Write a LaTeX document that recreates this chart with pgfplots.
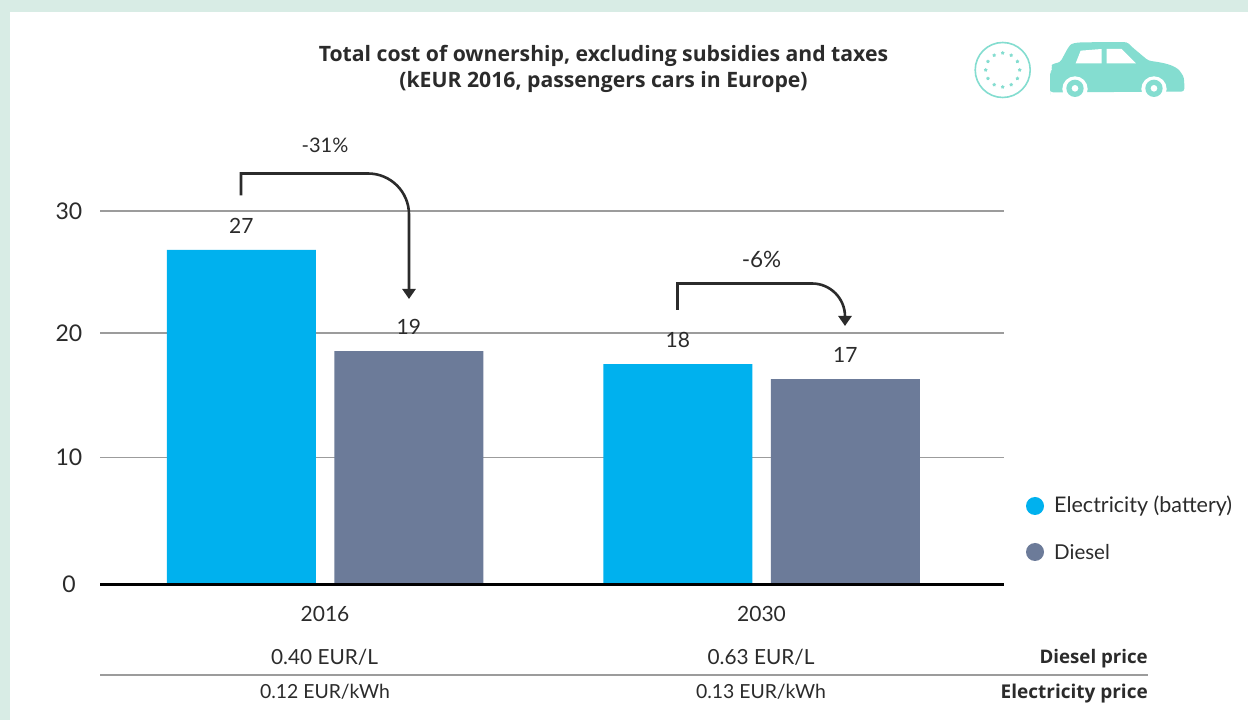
\documentclass[border=0pt]{standalone}
\usepackage{fontspec}
\setmainfont{Lato}
\newfontfamily\boldf{Open Sans}
\usepackage{pgfplots}
\pgfplotsset{compat=1.18}
\usetikzlibrary{arrows.meta,shapes.geometric,calc}
\definecolor{bgm}{HTML}{D8ECE5}
\definecolor{mint}{HTML}{84DDD0}
\definecolor{elec}{HTML}{00B1EE}
\definecolor{dies}{HTML}{6C7B99}
\definecolor{gridg}{HTML}{9C9C9C}
\definecolor{txt}{HTML}{2B2B2B}
\pgfplotstableread{
x y lab
0 26.87 27
1 17.7 18
}\electab
\pgfplotstableread{
x y lab
0 18.75 19
1 16.5 17
}\diestab
\begin{document}
\begin{tikzpicture}[x=1pt,y=1pt,font=\fontsize{20}{24}\selectfont\color{txt}]
\useasboundingbox (0,0) rectangle (1248,720);
\fill[bgm] (0,0) rectangle (1248,720);
\fill[white] (10,0) rectangle (1248,708);
\begin{axis}[
  at={(100pt,135.5pt)},anchor=south west,
  scale only axis,width=904pt,height=373.5pt,
  xmin=-0.5155,xmax=1.5555,ymin=0,ymax=30,
  clip=false,
  axis y line=left,axis x line=bottom,
  axis line style={draw=none},
  x axis line style={-},y axis line style={-},
  ymajorgrids,grid style={gridg,line width=1.2pt},
  major tick length=0pt,
  ytick={0,10.2,20.2,30},yticklabels={0,10,20,30},
  xtick={0,1},xticklabels={2016,2030},
  /pgf/number format/assume math mode=true,
  yticklabel style={font=\fontsize{23}{24}\selectfont\color{txt},anchor=center,xshift=-31pt},
  xticklabel style={font=\fontsize{21}{24}\selectfont\color{txt},yshift=-18pt},
  ybar,
  nodes near coords,point meta=explicit symbolic,
  every node near coord/.append style={font=\fontsize{21}{24}\selectfont\color{txt},yshift=13pt},
]
\addplot[fill=elec,draw=none,bar width=149pt,bar shift=-83.75pt] table[x=x,y=y,meta=lab]{\electab};
\addplot[fill=dies,draw=none,bar width=149pt,bar shift=83.75pt] table[x=x,y=y,meta=lab]{\diestab};
\draw[black,line width=2.4pt] (axis cs:-0.5155,0) -- (axis cs:1.5555,0);
\end{axis}
% legend
\fill[elec] (1035,214) circle (9);
\node[anchor=west,inner sep=0,font=\fontsize{21.5}{24}\selectfont\color{txt}] at (1054,214) {Electricity (battery)};
\fill[dies] (1035,168) circle (9);
\node[anchor=west,inner sep=0,font=\fontsize{20.5}{24}\selectfont\color{txt}] at (1054,168) {Diesel};
% title
\node[align=center,inner sep=0,font=\fontsize{21.2}{26}\boldf\selectfont\bfseries\color{txt}] at (603.5,651.5) {Total cost of ownership, excluding subsidies and taxes\\(kEUR 2016, passengers cars in Europe)};
% arrows
\node[inner sep=0] at (325,575) {-31\%};
\draw[line width=2.6pt,txt,-{Triangle[width=13pt,length=10pt]}] (241,524.5) -- (241,546.5) -- (368,546.5) arc[start angle=90,end angle=0,radius=41] -- (409,421);
\node[inner sep=0,font=\fontsize{22.5}{24}\selectfont\color{txt}] at (761.5,461) {-6\%};
\draw[line width=2.6pt,txt,-{Triangle[width=13pt,length=10pt]}] (677.5,410) -- (677.5,436.5) -- (812,436.5) arc[start angle=90,end angle=0,radius=33] -- (845,394);
% table
\draw[gridg,line width=1.2pt] (100,45) -- (1148,45);
\node[inner sep=0,font=\fontsize{20.8}{24}\selectfont\color{txt}] at (324.5,63) {0.40 EUR/L};
\node[inner sep=0,font=\fontsize{20.8}{24}\selectfont\color{txt}] at (761,63) {0.63 EUR/L};
\node[inner sep=0,font=\fontsize{19.4}{24}\selectfont\color{txt}] at (325,28) {0.12 EUR/kWh};
\node[inner sep=0,font=\fontsize{19.4}{24}\selectfont\color{txt}] at (761,28) {0.13 EUR/kWh};
\node[anchor=east,inner sep=0,font=\fontsize{18.7}{24}\boldf\selectfont\bfseries\color{txt}] at (1148,61.5) {Diesel price};
\node[anchor=east,inner sep=0,font=\fontsize{19}{24}\boldf\selectfont\bfseries\color{txt}] at (1148,26.5) {Electricity price};
% icon
\draw[mint,line width=1.6pt] (1002.7,650) circle (27.5);
\foreach \a in {0,30,...,330}{\node[star,star points=5,fill=mint,inner sep=0,minimum size=4pt] at ($(1002.7,650)+(\a:17)$) {};}
\begin{scope}[shift={(950,700)},x=0.3333pt,y=-0.3333pt]
\fill[mint,rounded corners=3pt] (300,215) -- (300,155) -- (310,150) -- (302,140) -- (310,130) -- (330,128) -- (355,82) .. controls (365,70) and (380,68) .. (400,67) -- (520,66) .. controls (535,68) and (540,75) .. (545,80) -- (595,122) .. controls (640,128) and (675,135) .. (695,160) .. controls (703,175) and (703,190) .. (703,215) -- (300,217) -- cycle;
\fill[white] (377,130) -- (392,92) -- (455,87) -- (455,130) -- cycle;
\fill[white] (470,130) -- (470,87) -- (515,87) -- (558,130) -- cycle;
\foreach \c in {375,612}{
\fill[white] (\c,207) circle (38);
\fill[white] (\c-35,207) rectangle (\c+35,222);
\fill[mint] (\c,205) circle (26);
\fill[white] (\c,205) circle (10);
}
\end{scope}
\end{tikzpicture}
\end{document}
